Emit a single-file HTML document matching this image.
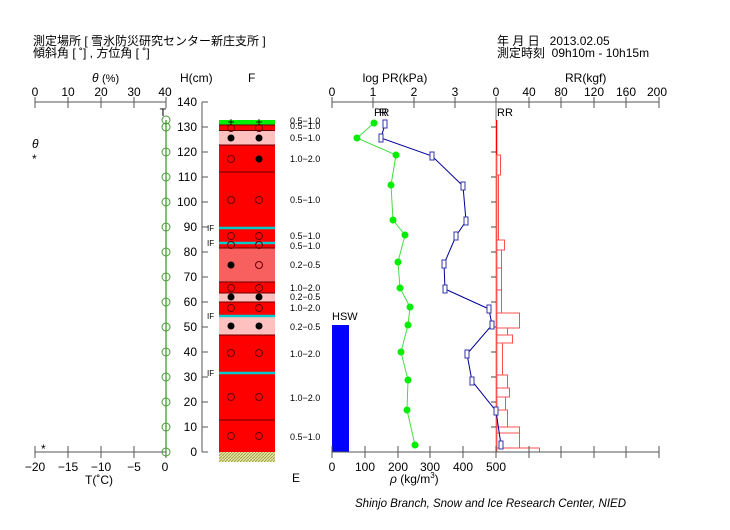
<!DOCTYPE html>
<html><head><meta charset="utf-8"><style>
html,body{margin:0;padding:0;background:#fff;}
svg{display:block;}
text{font-family:"Liberation Sans","Noto Sans CJK JP",sans-serif;fill:#000;}
</style></head><body>
<svg width="730" height="530" viewBox="0 0 730 530" xmlns="http://www.w3.org/2000/svg">
<defs>
<pattern id="hatch" width="3" height="3" patternUnits="userSpaceOnUse">
<rect width="3" height="3" fill="#e8e8b0"/>
<path d="M0,3 L3,0" stroke="#a0a040" stroke-width="1"/>
</pattern>
</defs>
<!-- header -->
<text x="33" y="45" font-size="12">測定場所 [ 雪氷防災研究センター新庄支所 ]</text>
<text x="33" y="57" font-size="12">傾斜角 [ ˚] , 方位角 [ ˚]</text>
<text x="497" y="45" font-size="12">年 月 日 &#160; 2013.02.05</text>
<text x="497" y="57" font-size="12">測定時刻 &#160;09h10m - 10h15m</text>

<!-- theta axis top -->
<text x="92" y="82" font-size="12" font-style="italic">θ</text><text x="102" y="82" font-size="11">(%)</text>
<g stroke="#555" stroke-width="1">
<line x1="35" y1="102" x2="166" y2="102"/>
<line x1="35" y1="97" x2="35" y2="108"/><line x1="68" y1="97" x2="68" y2="108"/><line x1="101" y1="97" x2="101" y2="108"/><line x1="134" y1="97" x2="134" y2="108"/><line x1="166" y1="97" x2="166" y2="108"/>
</g>
<g font-size="12" text-anchor="middle">
<text x="35" y="96">0</text><text x="68" y="96">10</text><text x="101" y="96">20</text><text x="134" y="96">30</text><text x="165" y="96">40</text>
</g>
<text x="163" y="116" font-size="11" text-anchor="middle">T</text>
<text x="32" y="148" font-size="12" font-style="italic">θ</text>
<text x="32" y="163" font-size="12">*</text>

<!-- T axis bottom -->
<g stroke="#555" stroke-width="1">
<line x1="35" y1="452" x2="166" y2="452"/>
<line x1="35" y1="446" x2="35" y2="458"/><line x1="68" y1="446" x2="68" y2="458"/><line x1="101" y1="446" x2="101" y2="458"/><line x1="134" y1="446" x2="134" y2="458"/><line x1="166" y1="446" x2="166" y2="458"/>
</g>
<g font-size="12" text-anchor="middle">
<text x="35" y="471">−20</text><text x="68" y="471">−15</text><text x="101" y="471">−10</text><text x="134" y="471">−5</text><text x="165" y="471">0</text>
</g>
<text x="99" y="484" font-size="12" text-anchor="middle">T(˚C)</text>
<text x="41" y="453" font-size="12">*</text>

<!-- temp line -->
<line x1="166" y1="120" x2="166" y2="452" stroke="#5aaa4a" stroke-width="1.5"/>
<g fill="none" stroke="#4a9a3a" stroke-width="1">
<circle cx="166" cy="120" r="4"/><circle cx="166" cy="127" r="4"/>
<circle cx="166" cy="152" r="4"/><circle cx="166" cy="177" r="4"/><circle cx="166" cy="202" r="4"/><circle cx="166" cy="227" r="4"/><circle cx="166" cy="252" r="4"/><circle cx="166" cy="277" r="4"/><circle cx="166" cy="302" r="4"/><circle cx="166" cy="327" r="4"/><circle cx="166" cy="352" r="4"/><circle cx="166" cy="377" r="4"/><circle cx="166" cy="402" r="4"/><circle cx="166" cy="427" r="4"/><circle cx="166" cy="452" r="4"/>
</g>

<!-- H axis -->
<text x="180" y="82" font-size="12">H(cm)</text>
<text x="248" y="82" font-size="12">F</text>
<line x1="202" y1="102" x2="202" y2="452" stroke="#555"/>
<g stroke="#555">
<line x1="202" y1="102" x2="208" y2="102"/><line x1="202" y1="127" x2="208" y2="127"/><line x1="202" y1="152" x2="208" y2="152"/><line x1="202" y1="177" x2="208" y2="177"/><line x1="202" y1="202" x2="208" y2="202"/><line x1="202" y1="227" x2="208" y2="227"/><line x1="202" y1="252" x2="208" y2="252"/><line x1="202" y1="277" x2="208" y2="277"/><line x1="202" y1="302" x2="208" y2="302"/><line x1="202" y1="327" x2="208" y2="327"/><line x1="202" y1="352" x2="208" y2="352"/><line x1="202" y1="377" x2="208" y2="377"/><line x1="202" y1="402" x2="208" y2="402"/><line x1="202" y1="427" x2="208" y2="427"/><line x1="202" y1="452" x2="208" y2="452"/>
</g>
<g font-size="12" text-anchor="end">
<text x="197" y="106">140</text><text x="197" y="131">130</text><text x="197" y="156">120</text><text x="197" y="181">110</text><text x="197" y="206">100</text><text x="197" y="231">90</text><text x="197" y="256">80</text><text x="197" y="281">70</text><text x="197" y="306">60</text><text x="197" y="331">50</text><text x="197" y="356">40</text><text x="197" y="381">30</text><text x="197" y="406">20</text><text x="197" y="431">10</text><text x="197" y="456">0</text>
</g>

<!-- layers -->
<rect x="219" y="120" width="56" height="5" fill="#00ee00"/>
<rect x="219" y="125" width="56" height="5.5" fill="#ff0000"/>
<rect x="219" y="130.5" width="56" height="14.5" fill="#ffc0c0"/>
<rect x="219" y="145" width="56" height="98" fill="#ff0000"/>
<rect x="219" y="243" width="56" height="5" fill="#ff0000"/>
<rect x="219" y="248" width="56" height="34" fill="#f86060"/>
<rect x="219" y="282" width="56" height="11" fill="#ff0000"/>
<rect x="219" y="293" width="56" height="9" fill="#ffc0c0"/>
<rect x="219" y="302" width="56" height="14" fill="#ff0000"/>
<rect x="219" y="316" width="56" height="19" fill="#ffc0c0"/>
<rect x="219" y="335" width="56" height="117" fill="#ff0000"/>
<rect x="219" y="452" width="56" height="10" fill="url(#hatch)"/>
<g stroke="#600" stroke-width="1">
<line x1="219" y1="125" x2="275" y2="125"/><line x1="219" y1="130.5" x2="275" y2="130.5"/><line x1="219" y1="145" x2="275" y2="145"/><line x1="219" y1="172" x2="275" y2="172"/><line x1="219" y1="248" x2="275" y2="248"/><line x1="219" y1="282" x2="275" y2="282"/><line x1="219" y1="293" x2="275" y2="293"/><line x1="219" y1="302" x2="275" y2="302"/><line x1="219" y1="335" x2="275" y2="335"/><line x1="219" y1="420" x2="275" y2="420"/>
</g>
<g stroke="#00cccc" stroke-width="2.5">
<line x1="219" y1="228" x2="275" y2="228"/><line x1="219" y1="243" x2="275" y2="243"/><line x1="219" y1="316" x2="275" y2="316"/><line x1="219" y1="373" x2="275" y2="373"/>
</g>
<g font-size="8"><text x="207" y="231">IF</text><text x="207" y="246">IF</text><text x="207" y="319">IF</text><text x="207" y="376">IF</text></g>
<!-- symbols -->
<g fill="none" stroke="#600" stroke-width="1">
<circle cx="231" cy="128" r="3.5"/><circle cx="259" cy="128" r="3.5"/>
<circle cx="231" cy="159" r="3.5"/>
<circle cx="231" cy="200" r="3.5"/><circle cx="259" cy="200" r="3.5"/>
<circle cx="231" cy="236" r="3.5"/><circle cx="259" cy="236" r="3.5"/>
<circle cx="231" cy="245" r="3.5"/><circle cx="259" cy="245" r="3.5"/>
<circle cx="259" cy="265" r="3.5"/>
<circle cx="231" cy="288" r="3.5"/><circle cx="259" cy="288" r="3.5"/>
<circle cx="231" cy="308" r="3.5"/><circle cx="259" cy="308" r="3.5"/>
<circle cx="231" cy="353" r="3.5"/><circle cx="259" cy="353" r="3.5"/>
<circle cx="231" cy="397" r="3.5"/><circle cx="259" cy="397" r="3.5"/>
<circle cx="231" cy="436" r="3.5"/><circle cx="259" cy="436" r="3.5"/>
</g>
<g fill="#000">
<circle cx="231" cy="138" r="3.5"/><circle cx="259" cy="138" r="3.5"/>
<circle cx="259" cy="159" r="3.5"/>
<circle cx="231" cy="265" r="3.5"/>
<circle cx="231" cy="297" r="3.5"/><circle cx="259" cy="297" r="3.5"/>
<circle cx="231" cy="326" r="3.5"/><circle cx="259" cy="326" r="3.5"/>
</g>
<g stroke="#000" stroke-width="0.8"><line x1="228" y1="122" x2="234" y2="122"/><line x1="231" y1="119" x2="231" y2="125"/><line x1="256" y1="122" x2="262" y2="122"/><line x1="259" y1="119" x2="259" y2="125"/></g>
<g font-size="9">
<text x="290" y="124">0.5−1.0</text><text x="290" y="129">0.5−1.0</text><text x="290" y="141">0.5−1.0</text><text x="290" y="162">1.0−2.0</text><text x="290" y="203">0.5−1.0</text><text x="290" y="239">0.5−1.0</text><text x="290" y="249">0.5−1.0</text><text x="290" y="268">0.2−0.5</text><text x="290" y="291">1.0−2.0</text><text x="290" y="300">0.2−0.5</text><text x="290" y="311">1.0−2.0</text><text x="290" y="330">0.2−0.5</text><text x="290" y="357">1.0−2.0</text><text x="290" y="401">1.0−2.0</text><text x="290" y="440">0.5−1.0</text>
</g>
<text x="292" y="482" font-size="12">E</text>

<!-- PR / RR axes top -->
<text x="395" y="82" font-size="12" text-anchor="middle">log PR(kPa)</text>
<text x="565" y="82" font-size="12">RR(kgf)</text>
<g stroke="#555">
<line x1="332" y1="102" x2="659" y2="102"/>
<line x1="332" y1="97" x2="332" y2="108"/><line x1="373" y1="97" x2="373" y2="108"/><line x1="414" y1="97" x2="414" y2="108"/><line x1="455" y1="97" x2="455" y2="108"/><line x1="496" y1="97" x2="496" y2="108"/><line x1="529" y1="97" x2="529" y2="108"/><line x1="561" y1="97" x2="561" y2="108"/><line x1="594" y1="97" x2="594" y2="108"/><line x1="626" y1="97" x2="626" y2="108"/><line x1="659" y1="97" x2="659" y2="108"/>
</g>
<g font-size="12" text-anchor="middle">
<text x="332" y="96">0</text><text x="373" y="96">1</text><text x="414" y="96">2</text><text x="455" y="96">3</text><text x="496" y="96">0</text><text x="529" y="96">40</text><text x="561" y="96">80</text><text x="594" y="96">120</text><text x="626" y="96">160</text><text x="657" y="96">200</text>
</g>
<text x="374" y="116" font-size="11">PR</text><text x="379" y="116" font-size="11">R</text>
<text x="497" y="116" font-size="11">RR</text>

<!-- RR vertical axis -->
<line x1="496" y1="102" x2="496" y2="120" stroke="#777"/>
<g stroke="#444"><line x1="491" y1="127" x2="496" y2="127"/><line x1="491" y1="152" x2="496" y2="152"/><line x1="491" y1="177" x2="496" y2="177"/><line x1="491" y1="202" x2="496" y2="202"/><line x1="491" y1="227" x2="496" y2="227"/><line x1="491" y1="252" x2="496" y2="252"/><line x1="491" y1="277" x2="496" y2="277"/><line x1="491" y1="302" x2="496" y2="302"/><line x1="491" y1="327" x2="496" y2="327"/><line x1="491" y1="352" x2="496" y2="352"/><line x1="491" y1="377" x2="496" y2="377"/><line x1="491" y1="402" x2="496" y2="402"/><line x1="491" y1="427" x2="496" y2="427"/></g>
<g fill="none" stroke="#ff5050" stroke-width="1">
<line x1="496.5" y1="120" x2="496.5" y2="452" stroke="#ff0000" stroke-width="1.5"/>
<rect x="496.5" y="155" width="4" height="20"/>
<rect x="496.5" y="175" width="2" height="65"/>
<rect x="496.5" y="240" width="8" height="10"/>
<rect x="496.5" y="250" width="5" height="18"/>
<rect x="496.5" y="268" width="5" height="22"/>
<rect x="496.5" y="290" width="5" height="23"/>
<rect x="496.5" y="313" width="23" height="15"/>
<rect x="496.5" y="328" width="11" height="7"/>
<rect x="496.5" y="335" width="16" height="8"/>
<rect x="496.5" y="343" width="6" height="32"/>
<rect x="496.5" y="375" width="11" height="13"/>
<rect x="496.5" y="388" width="13" height="9"/>
<rect x="496.5" y="397" width="9" height="13"/>
<rect x="496.5" y="410" width="11" height="17"/>
<rect x="496.5" y="427" width="23" height="6"/>
<rect x="496.5" y="433" width="23" height="15"/>
<rect x="496.5" y="448" width="43" height="4"/>
</g>

<!-- HSW -->
<rect x="332" y="325" width="17" height="127" fill="#0000ff"/>
<text x="332" y="320" font-size="11">HSW</text>

<!-- density -->
<polyline fill="none" stroke="#44dd44" stroke-width="1" points="374,123 357,138 396,155 391,185 393,220 405,235 398,262 400,288 410,307 408,325 401,352 408,380 407,410 415,445"/>
<g fill="#00ee00">
<circle cx="374" cy="123" r="3.5"/><circle cx="357" cy="138" r="3.5"/><circle cx="396" cy="155" r="3.5"/><circle cx="391" cy="185" r="3.5"/><circle cx="393" cy="220" r="3.5"/><circle cx="405" cy="235" r="3.5"/><circle cx="398" cy="262" r="3.5"/><circle cx="400" cy="288" r="3.5"/><circle cx="410" cy="307" r="3.5"/><circle cx="408" cy="325" r="3.5"/><circle cx="401" cy="352" r="3.5"/><circle cx="408" cy="380" r="3.5"/><circle cx="407" cy="410" r="3.5"/><circle cx="415" cy="445" r="3.5"/>
</g>

<!-- hardness -->
<polyline fill="none" stroke="#000099" stroke-width="1" points="385,124 381,138 432,156 463,186 466,221 456,236 444,264 445,289 489,309 492,325 467,354 472,381 496,411 501,445"/>
<g fill="#fff" stroke="#3333aa" stroke-width="1">
<rect x="383" y="120" width="4" height="8"/><rect x="379" y="134" width="4" height="8"/><rect x="430" y="152" width="4" height="8"/><rect x="461" y="182" width="4" height="8"/><rect x="464" y="217" width="4" height="8"/><rect x="454" y="232" width="4" height="8"/><rect x="442" y="260" width="4" height="8"/><rect x="443" y="285" width="4" height="8"/><rect x="487" y="305" width="4" height="8"/><rect x="490" y="321" width="4" height="8"/><rect x="465" y="350" width="4" height="8"/><rect x="470" y="377" width="4" height="8"/><rect x="494" y="407" width="4" height="8"/><rect x="499" y="441" width="4" height="8"/>
</g>

<!-- density axis bottom -->
<g stroke="#555">
<line x1="332" y1="452" x2="659" y2="452"/>
<line x1="332" y1="446" x2="332" y2="458"/><line x1="365" y1="446" x2="365" y2="458"/><line x1="398" y1="446" x2="398" y2="458"/><line x1="430" y1="446" x2="430" y2="458"/><line x1="463" y1="446" x2="463" y2="458"/><line x1="496" y1="446" x2="496" y2="458"/><line x1="529" y1="446" x2="529" y2="458"/><line x1="561" y1="446" x2="561" y2="458"/><line x1="594" y1="446" x2="594" y2="458"/><line x1="626" y1="446" x2="626" y2="458"/><line x1="659" y1="446" x2="659" y2="458"/>
</g>
<g font-size="12" text-anchor="middle">
<text x="332" y="471">0</text><text x="365" y="471">100</text><text x="398" y="471">200</text><text x="430" y="471">300</text><text x="463" y="471">400</text><text x="496" y="471">500</text>
</g>
<text x="390" y="483" font-size="12"><tspan font-style="italic">ρ</tspan> (kg/m<tspan font-size="8" dy="-5">3</tspan><tspan dy="5">)</tspan></text>

<text x="355" y="507" font-size="11.5" font-style="italic">Shinjo Branch, Snow and Ice Research Center, NIED</text>
</svg>
</body></html>
